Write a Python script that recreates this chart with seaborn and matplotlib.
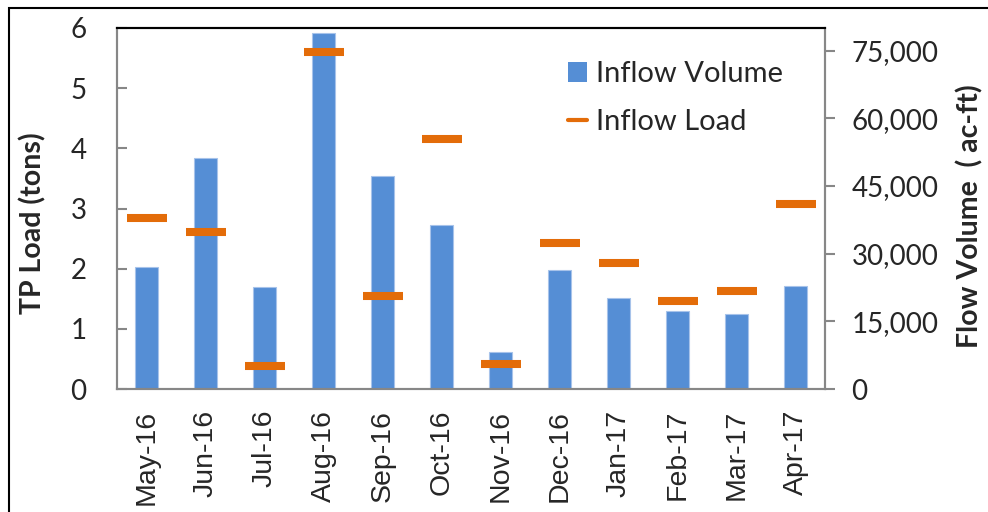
import pandas as pd
import matplotlib
matplotlib.use("Agg")
import matplotlib.pyplot as plt
import matplotlib.ticker as mticker
from matplotlib.patches import Rectangle, Patch
from matplotlib.lines import Line2D
import seaborn as sns

# datos
months = ["May-16", "Jun-16", "Jul-16", "Aug-16", "Sep-16", "Oct-16",
          "Nov-16", "Dec-16", "Jan-17", "Feb-17", "Mar-17", "Apr-17"]
inflow_volume = [27000, 51200, 22700, 78800, 47300, 36300,
                 8300, 26300, 20100, 17300, 16700, 22800]
inflow_load = [2.84, 2.61, 0.38, 5.60, 1.55, 4.15,
               0.42, 2.43, 2.09, 1.46, 1.63, 3.07]
load_ticks = [0, 1, 2, 3, 4, 5, 6]
volume_ticks = [0, 15000, 30000, 45000, 60000, 75000]

df = pd.DataFrame({"Month": months, "Volume": inflow_volume, "Load": inflow_load})

blue = "#558ED5"
orange = "#E36C09"
gray = "#878787"

sns.set_style("white")
plt.rcParams["font.family"] = ["Lato", "DejaVu Sans"]

fig = plt.figure(figsize=(9.88, 5.12), dpi=100)
ax = fig.add_axes([117 / 988, 1 - 389 / 512, (825 - 117) / 988, (389 - 28) / 512])
ax2 = ax.twinx()

# barras de volumen (eje derecho)
sns.barplot(data=df, x="Month", y="Volume", ax=ax2, color=blue, width=0.4,
            saturation=1, edgecolor="#A7C3EA", linewidth=0.8)

# carga como marcas horizontales (eje izquierdo)
sns.pointplot(data=df, x="Month", y="Load", ax=ax, color=orange, errorbar=None,
              marker="_", linestyle="none", markersize=29, markeredgewidth=5.8)

ax.set_zorder(ax2.get_zorder() + 1)
ax.patch.set_visible(False)

ax.set_xlim(-0.5, len(months) - 0.5)
ax.set_ylim(0, 6)
ax.set_yticks(load_ticks)
ax2.set_ylim(0, 80000)
ax2.set_yticks(volume_ticks)
ax2.yaxis.set_major_formatter(mticker.StrMethodFormatter("{x:,.0f}"))

ax.set_xticks(range(len(months)))
ax.set_xticklabels(months, family="Liberation Sans", fontsize=20.5, rotation=90)
ax.set_xlabel("")
ax2.set_xlabel("")

ax.tick_params(axis="x", length=0, pad=15)
ax.tick_params(axis="y", direction="in", length=7, width=1.5, color=gray,
               pad=22, labelsize=20)
ax2.tick_params(axis="y", direction="out", length=7, width=1.5, color=gray,
                pad=12, labelsize=20)

ax.set_ylabel("TP Load (tons)", fontsize=20.5, fontweight="bold")
ax.yaxis.set_label_coords(-0.10, 0.46)
ax2.set_ylabel("Flow Volume  ( ac-ft)", fontsize=20.5, fontweight="bold")
ax2.yaxis.set_label_coords(1.186, 0.48)

for a in (ax, ax2):
    for s in a.spines.values():
        s.set_color(gray)
        s.set_linewidth(1.5)
    a.spines["top"].set_color("black")

handles = [Patch(facecolor=blue, edgecolor="none"),
           Line2D([], [], color=orange, lw=3)]
ax.legend(handles, ["Inflow Volume", "Inflow Load"], loc="upper left",
          bbox_to_anchor=(0.637, 0.908), frameon=False, fontsize=21,
          handlelength=0.65, handleheight=0.65, handletextpad=0.3,
          labelspacing=0.75, borderpad=0, borderaxespad=0)

# marco exterior
fig.add_artist(Rectangle((9 / 988, -0.1), 1.2, 1.1 - 8 / 512, transform=fig.transFigure,
                         fill=False, edgecolor="black", linewidth=1.5))

fig.savefig("out.png", dpi=100)
